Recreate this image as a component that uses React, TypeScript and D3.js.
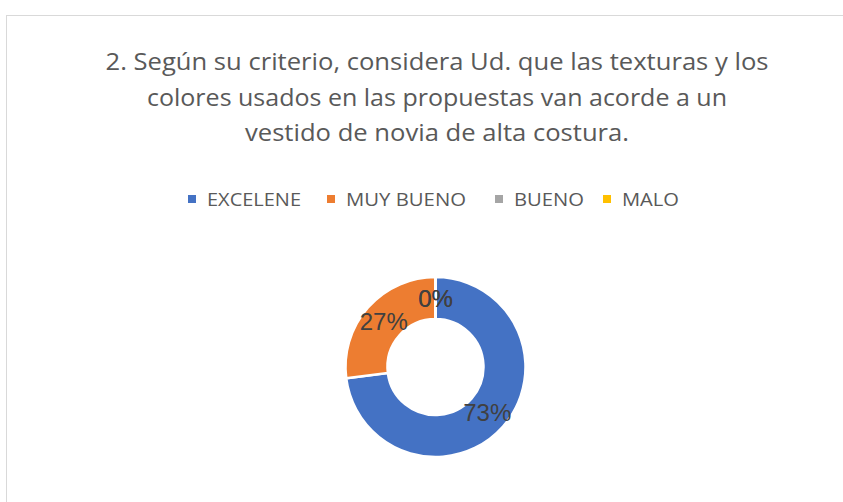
import React from "react";
import * as d3 from "d3";

const categories = ["EXCELENE", "MUY BUENO", "BUENO", "MALO"];
const percentages = [73, 27, 0, 0];
const colors = ["#4472C4", "#ED7D31", "#A5A5A5", "#FFC000"];
const titleLines = [
  "2. Según su criterio, considera Ud. que las texturas y los",
  "colores usados en las propuestas van acorde a un",
  "vestido de novia de alta costura.",
];

const W = 843;
const H = 502;
const cx = 435.5;
const cy = 367;
const outerR = 90;
const innerR = 48;

// legend layout: marker x and label widths
const legendX = [188, 327, 495, 603];
const legendWidths = [94, 120, 70, 57];
const titleWidths = [663, 580, 384];

export default function App() {
  const pie = d3
    .pie<number>()
    .sort(null)
    .value((d) => d);
  const arcs = pie(percentages);
  const arc = d3.arc<d3.PieArcDatum<number>>().innerRadius(innerR).outerRadius(outerR);

  return (
    <svg
      width={W}
      height={H}
      style={{ position: "absolute", left: 0, top: 0, background: "#fff" }}
    >
      <rect x={6.5} y={15.5} width={900} height={600} fill="#fff" stroke="#d9d9d9" strokeWidth={1} />
      <g fontFamily="'Open Sans', sans-serif" fill="#595959">
        {titleLines.map((t, i) => (
          <text
            key={i}
            x={437}
            y={70 + i * 35.5}
            fontSize={24}
            textAnchor="middle"
            textLength={titleWidths[i]}
            lengthAdjust="spacingAndGlyphs"
          >
            {t}
          </text>
        ))}
      </g>
      <g fontFamily="'Open Sans', sans-serif" fill="#595959" fontSize={18}>
        {categories.map((c, i) => (
          <g key={c}>
            <rect x={legendX[i]} y={195} width={8} height={8} fill={colors[i]} />
            <text
              x={legendX[i] + 19}
              y={206}
              textLength={legendWidths[i]}
              lengthAdjust="spacingAndGlyphs"
            >
              {c}
            </text>
          </g>
        ))}
      </g>
      <g transform={`translate(${cx},${cy})`}>
        {arcs.map((a, i) => (
          <path key={i} d={arc(a) || ""} fill={colors[i]} stroke="#fff" strokeWidth={2.5} />
        ))}
        {arcs.map((a, i) => {
          const [x, y] = arc.centroid(a);
          return (
            <text
              key={"l" + i}
              x={x}
              y={y}
              fontFamily="'Liberation Sans', Arial, sans-serif"
              fontSize={24}
              fill="#404040"
              textAnchor="middle"
              dominantBaseline="central"
            >
              {`${percentages[i]}%`}
            </text>
          );
        })}
      </g>
    </svg>
  );
}
